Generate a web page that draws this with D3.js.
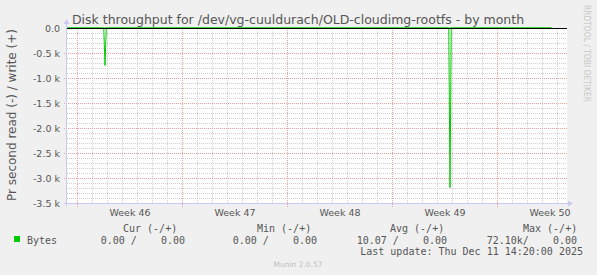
<!DOCTYPE html>
<html><head><meta charset="utf-8">
<script src="https://cdn.jsdelivr.net/npm/d3@7"></script>
<style>
html,body{margin:0;padding:0;background:#f0f0f0;}
svg{display:block;}
text{font-family:"DejaVu Sans",sans-serif;}
.mono{font-family:"DejaVu Sans Mono",monospace;white-space:pre;}
</style></head>
<body>
<svg id="c" width="597" height="275"></svg>
<script>
// ---- data ----
const sampleTimes = ["2025-11-09T08:00:00Z","2025-11-11T18:00:00Z","2025-11-11T20:00:00Z","2025-11-11T22:00:00Z",
                     "2025-12-04T18:00:00Z","2025-12-04T20:00:00Z","2025-12-04T22:00:00Z","2025-12-11T14:20:00Z"];
const readBytes  = [0, 0, 750, 0, 0, 3190, 0, 0];   // drawn negative
const writeBytes = [0, 0, 0, 0, 0, 0, 0, 0];
const yTicks = [0, -500, -1000, -1500, -2000, -2500, -3000, -3500];
const yTickLabels = ["0.0","-0.5 k","-1.0 k","-1.5 k","-2.0 k","-2.5 k","-3.0 k","-3.5 k"];
const timeDomain = ["2025-11-09T07:12:00Z","2025-12-12T15:12:00Z"];
const legendHeaders = ["Cur (-/+)","Min (-/+)","Avg (-/+)","Max (-/+)"];
const legendValues = ["0.00 /    0.00","0.00 /    0.00","10.07 /    0.00","72.10k/    0.00"];
const seriesName = "Bytes";
const title = "Disk throughput for /dev/vg-cuuldurach/OLD-cloudimg-rootfs - by month";
const yLabel = "Pr second read (-) / write (+)";
const lastUpdate = "Last update: Thu Dec 11 14:20:00 2025";

// ---- drawing ----
const svg = d3.select("#c");
const L = 67, R = 567, T = 28, B = 203;
svg.append("rect").attr("x",0).attr("y",0).attr("width",597).attr("height",275).attr("fill","#f0f0f0");
svg.append("rect").attr("x",L).attr("y",T).attr("width",R-L).attr("height",B-T).attr("fill","#ffffff");

const x = d3.scaleUtc().domain(timeDomain.map(d=>new Date(d))).range([L,R]);
const y = d3.scaleLinear().domain([-3500,0]).range([B,T]);

// dotted grid lines as 1x1 pixel squares (1 on / 1 off)
function hDots(py, x0, x1){ let s=""; for(let i=x0;i<x1;i+=2) s+=`M${i},${py}h1v1h-1Z`; return s; }
function vDots(px, y0, y1){ let s=""; for(let j=y0;j<y1;j+=2) s+=`M${px},${j}h1v1h-1Z`; return s; }
const minorC = "#d0d0d0", majorC = "#e8a0a0";
const days = d3.utcDay.range(x.domain()[0], x.domain()[1]);
const mondays = d3.utcMonday.range(x.domain()[0], x.domain()[1]);

let minorPath = "";
d3.range(-3500, 1, 100).filter(v=>v%500!==0).forEach(v=>{ minorPath += hDots(Math.round(y(v)), L, R); });
days.filter(d=>d.getUTCDay()!==1).forEach(d=>{ minorPath += vDots(Math.floor(x(d)), T, B); });
svg.append("path").attr("d",minorPath).attr("fill",minorC).attr("shape-rendering","crispEdges");

let majorPath = "";
yTicks.filter(v=>v!==0).forEach(v=>{ majorPath += hDots(Math.round(y(v)), L-3, R); });
mondays.forEach(d=>{ majorPath += vDots(Math.floor(x(d)), T, B+4); });
svg.append("path").attr("d",majorPath).attr("fill",majorC).attr("shape-rendering","crispEdges");

// y tick labels
yTicks.forEach((v,i)=>{
  svg.append("text").attr("x",60).attr("y",y(v)+3.5).attr("text-anchor","end")
    .attr("font-size","9.5px").attr("fill","#555").text(yTickLabels[i]);
});
// week labels
const fmtWeek = d3.utcFormat("%V");
mondays.forEach(d=>{
  const mid = new Date(d.getTime() + 3.5*86400000);
  svg.append("text").attr("x",x(mid)).attr("y",215.5).attr("text-anchor","middle")
    .attr("font-size","9.5px").attr("fill","#555").text("Week " + (+fmtWeek(d)));
});

// axes
svg.append("line").attr("x1",L-0.5).attr("x2",L-0.5).attr("y1",B+3).attr("y2",T-5)
  .attr("stroke","#c8c8f4");
svg.append("path").attr("d",`M${L-3.5},${T-4}L${L-0.5},${T-9}L${L+2.5},${T-4}Z`).attr("fill","#c8c8f4");
svg.append("line").attr("x1",L-3).attr("x2",R+2).attr("y1",B+0.5).attr("y2",B+0.5)
  .attr("stroke","#c8c8f4");
svg.append("path").attr("d",`M${R+1},${B-2.5}L${R+6},${B+0.5}L${R+1},${B+3.5}Z`).attr("fill","#c8c8f4");

// series
const pts = sampleTimes.map((t,i)=>({t:new Date(t), r:-readBytes[i], w:writeBytes[i]}));
const lineR = d3.line().x(d=>x(d.t)).y(d=>y(d.r));
const lineW = d3.line().x(d=>x(d.t)).y(d=>y(d.w));
svg.append("path").attr("d",lineR(pts)).attr("fill","none").attr("stroke","#00cc00").attr("stroke-width",1);
svg.append("path").attr("d",lineW(pts)).attr("fill","none").attr("stroke","#00cc00").attr("stroke-width",1);
// zero line
svg.append("line").attr("x1",L).attr("x2",R).attr("y1",Math.round(y(0))+0.5).attr("y2",Math.round(y(0))+0.5)
  .attr("stroke","#000").attr("stroke-width",1);

// title
svg.append("text").attr("x",298).attr("y",24).attr("text-anchor","middle")
  .attr("font-size","12.5px").attr("fill","#555").text(title);
// y label
svg.append("text").attr("transform","translate(15.5,115) rotate(-90)").attr("text-anchor","middle")
  .attr("font-size","12px").attr("fill","#555").text(yLabel);
// right credit
svg.append("text").attr("transform","translate(584,5) rotate(90)").attr("text-anchor","start")
  .attr("font-size","9px").attr("textLength",97).attr("lengthAdjust","spacingAndGlyphs")
  .attr("fill","#c8c8c8").text("RRDTOOL / TOBI OETIKER");

// legend
const hx = [123,257,390,523];
legendHeaders.forEach((h,i)=>{
  svg.append("text").attr("class","mono").attr("x",hx[i]).attr("y",232).attr("font-size","10px")
    .attr("fill","#555").text(h);
});
const vEnd = [185,317,447,577];
legendValues.forEach((v,i)=>{
  svg.append("text").attr("class","mono").attr("x",vEnd[i]).attr("y",244).attr("text-anchor","end")
    .attr("font-size","10px").attr("fill","#555").text(v);
});
svg.append("rect").attr("x",14).attr("y",236).attr("width",6).attr("height",6).attr("fill","#00cc00");
svg.append("text").attr("class","mono").attr("x",27).attr("y",244).attr("font-size","10px").attr("fill","#555").text(seriesName);
svg.append("text").attr("class","mono").attr("x",583).attr("y",255).attr("text-anchor","end")
  .attr("font-size","10px").attr("fill","#555").text(lastUpdate);
svg.append("text").attr("x",298).attr("y",267).attr("text-anchor","middle")
  .attr("font-size","7.5px").attr("fill","#c0c0c0").text("Munin 2.0.57");
</script>
</body></html>
